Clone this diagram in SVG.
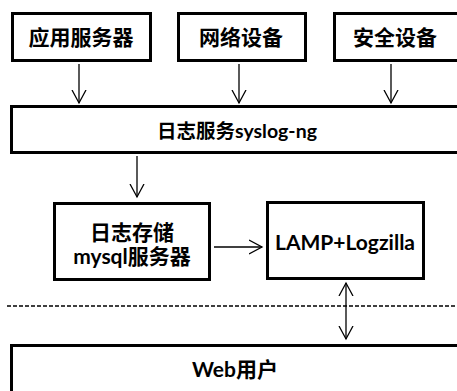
<svg xmlns="http://www.w3.org/2000/svg" width="457" height="391" viewBox="0 0 457 391">
<style>
.box{fill:#fff;stroke:#000;stroke-width:3}
.t{font-family:Lato,"Noto Sans CJK SC",sans-serif;font-weight:bold;font-size:21px;fill:#000;text-anchor:middle}
.c{stroke:#000;stroke-width:1.3;fill:none}
</style>
<defs>
<marker id="ah" markerUnits="userSpaceOnUse" markerWidth="16" markerHeight="16" refX="13" refY="7" orient="auto-start-reverse" viewBox="0 0 16 14">
<path d="M0,0 L13,7 L0,14" fill="none" stroke="#000" stroke-width="1.3"/>
</marker>
</defs>
<rect width="457" height="391" fill="#fff"/>
<g id="app"><rect class="box" x="12.5" y="13.5" width="138" height="47"/><text class="t" x="81" y="45">应用服务器</text></g>
<g id="net"><rect class="box" x="178.5" y="13.5" width="127" height="47"/><text class="t" x="241" y="45">网络设备</text></g>
<g id="sec"><rect class="box" x="334.5" y="13.5" width="130" height="47"/><text class="t" x="395" y="45">安全设备</text></g>
<g id="syslog"><rect class="box" x="11.5" y="106.5" width="460" height="46"/><text class="t" x="237" y="138" style="font-size:19.5px">日志服务syslog-ng</text></g>
<g id="storage"><rect class="box" x="54.5" y="203.5" width="155" height="76"/><text class="t" x="132" y="240">日志存储</text><text class="t" x="132" y="264">mysql服务器</text></g>
<g id="lamp"><rect class="box" x="267.5" y="202.5" width="156" height="76"/><text class="t" x="345" y="250">LAMP+Logzilla</text></g>
<g id="web"><rect class="box" x="11.5" y="345.5" width="460" height="60"/><text class="t" x="235" y="377">Web用户</text></g>
<g id="connectors">
<line class="c" x1="79" y1="64" x2="79" y2="103" marker-end="url(#ah)"/>
<line class="c" x1="239" y1="64" x2="239" y2="103" marker-end="url(#ah)"/>
<line class="c" x1="391" y1="64" x2="391" y2="103" marker-end="url(#ah)"/>
<line class="c" x1="137" y1="156" x2="137" y2="197" marker-end="url(#ah)"/>
<line class="c" x1="214" y1="247" x2="262" y2="247" marker-end="url(#ah)"/>
<line class="c" x1="346" y1="283" x2="346" y2="339" marker-start="url(#ah)" marker-end="url(#ah)"/>
<line x1="7" y1="306" x2="457" y2="306" stroke="#000" stroke-width="1.4" stroke-dasharray="4 2"/>
</g>
</svg>
